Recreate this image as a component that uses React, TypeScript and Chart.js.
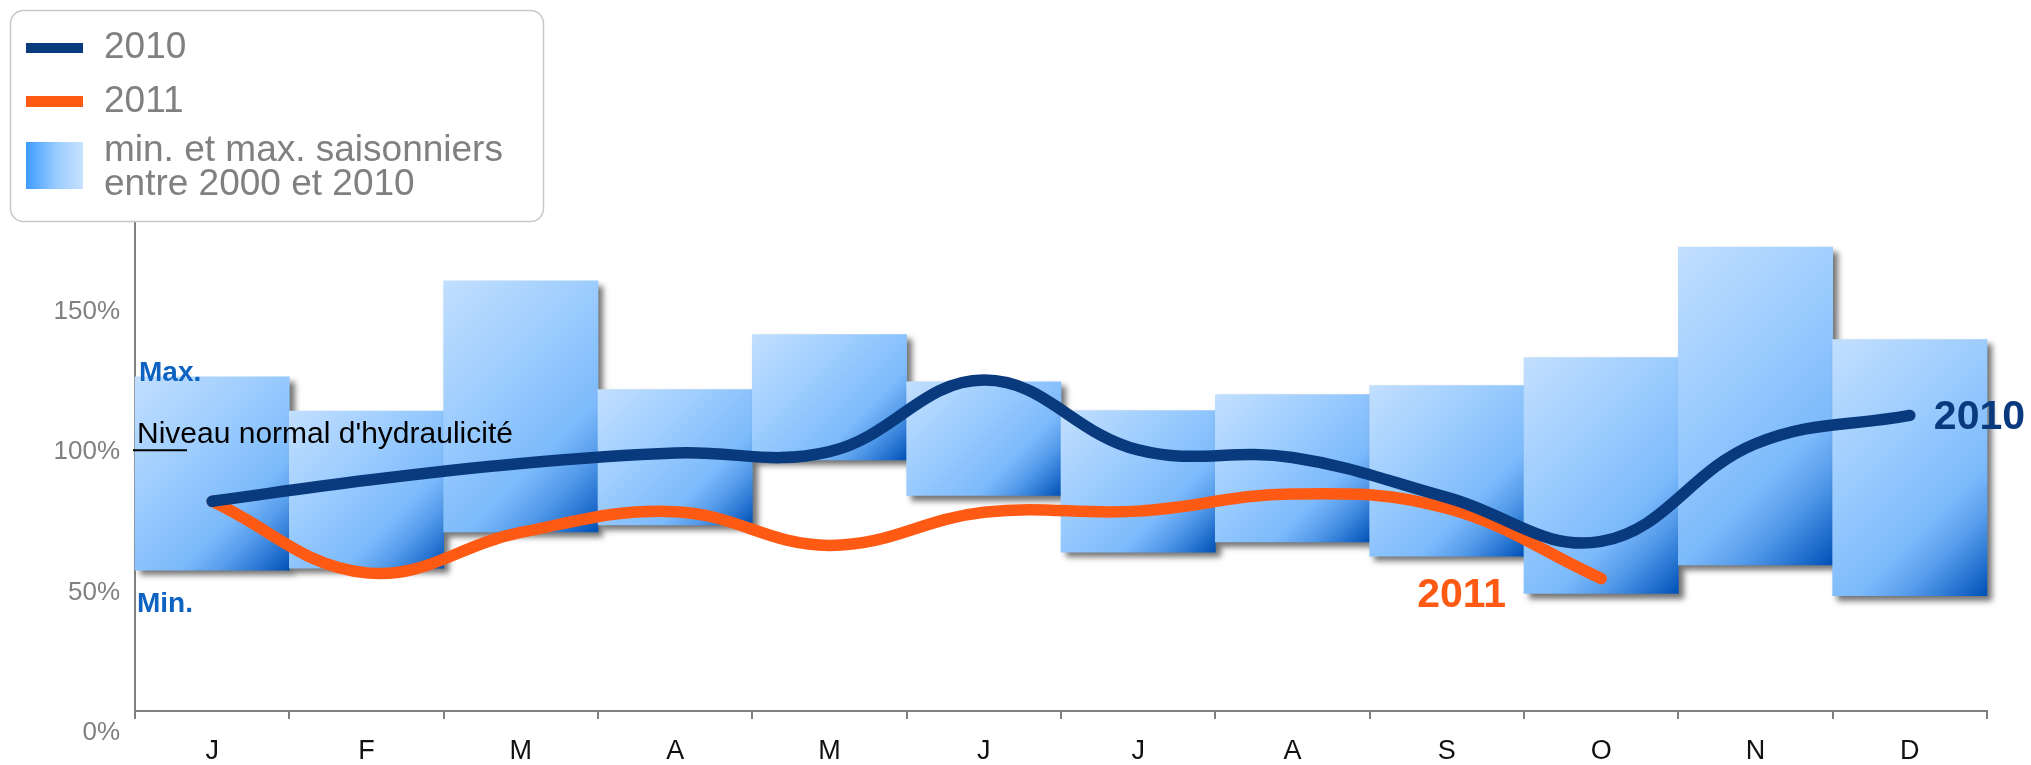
import React, { useEffect, useRef } from 'react';
import { Chart, registerables } from 'chart.js';

Chart.register(...registerables);

const W = 2031;
const H = 765;
const FONT = "'Liberation Sans', Arial, Helvetica, sans-serif";

// ---- data ----
const MONTHS = ['J', 'F', 'M', 'A', 'M', 'J', 'J', 'A', 'S', 'O', 'N', 'D'];
const SEASONAL_MIN = [50.2, 50.9, 63.8, 66.3, 89.4, 76.8, 56.6, 60.2, 55.2, 41.9, 52.0, 41.1];
const SEASONAL_MAX = [119.0, 106.8, 153.2, 114.5, 134.1, 117.3, 107.0, 112.7, 115.9, 125.9, 165.3, 132.3];
const SERIES_2010 = [74.7, 82.2, 88.2, 91.9, 92.4, 117.9, 93.0, 90.3, 76.1, 60.4, 95.2, 105.3];
const SERIES_2011: (number | null)[] = [74.7, 49.2, 63.6, 71.0, 59.0, 70.8, 71.2, 77.3, 72.2, 47.2, null, null];
const Y_TICKS = [0, 50, 100, 150];
const Y_MAX = 174.2;
const NORMAL_LEVEL = 100;

const LEGEND_2010 = '2010';
const LEGEND_2011 = '2011';
const LEGEND_RANGE = ['min. et max. saisonniers', 'entre 2000 et 2010'];

// ---- styles ----
const NAVY = '#0a3a7e';
const ORANGE = '#ff5a14';
const GRAY = '#808080';
const MINMAX_BLUE = '#0d62c2';
const Y_LABEL_OFFSET = 22;
const NORMAL_MARK_OFFSET = 20;

function barGradient(ctx: any) {
  const chart = ctx.chart;
  const xs = chart.scales?.x;
  const ys = chart.scales?.y;
  if (!chart.chartArea || !xs || !ys || ctx.type !== 'data') return '#80bdfc';
  const i = ctx.dataIndex;
  const w = xs.width / MONTHS.length;
  const left = xs.getPixelForValue(i) - w / 2;
  const top = ys.getPixelForValue(SEASONAL_MAX[i]);
  const bottom = ys.getPixelForValue(SEASONAL_MIN[i]);
  const h = bottom - top;
  const d = (w + h) / 2;
  const g = chart.ctx.createLinearGradient(left, top, left + d, top + d);
  g.addColorStop(0, '#c2dffe');
  g.addColorStop(0.4, '#9acbfe');
  g.addColorStop(0.68, '#7cbafb');
  g.addColorStop(0.8, '#569ceb');
  g.addColorStop(0.9, '#2b78d4');
  g.addColorStop(1, '#0050b6');
  return g;
}

const barShadow = {
  id: 'barShadow',
  beforeDatasetDraw(chart: any, args: any) {
    if (chart.data.datasets[args.index].type !== 'bar') return;
    const ctx = chart.ctx;
    ctx.save();
    ctx.shadowColor = 'rgba(0,0,0,0.55)';
    ctx.shadowBlur = 6;
    ctx.shadowOffsetX = 5;
    ctx.shadowOffsetY = 5;
  },
  afterDatasetDraw(chart: any, args: any) {
    if (chart.data.datasets[args.index].type !== 'bar') return;
    chart.ctx.restore();
  },
};

const annotations = {
  id: 'annotations',
  afterDatasetsDraw(chart: any) {
    const { ctx, chartArea } = chart;
    const x = chart.scales.x;
    const y = chart.scales.y;
    ctx.save();
    ctx.textAlign = 'left';
    ctx.textBaseline = 'alphabetic';

    ctx.font = `bold 28px ${FONT}`;
    ctx.fillStyle = MINMAX_BLUE;
    ctx.fillText('Max.', chartArea.left + 4, y.getPixelForValue(SEASONAL_MAX[0]) + 4);
    ctx.fillText('Min.', chartArea.left + 2, y.getPixelForValue(SEASONAL_MIN[0]) + 42);

    const ny = y.getPixelForValue(NORMAL_LEVEL) + NORMAL_MARK_OFFSET;
    ctx.fillStyle = '#000';
    ctx.font = `30px ${FONT}`;
    ctx.fillText("Niveau normal d'hydraulicité", chartArea.left + 2, ny - 7);
    ctx.strokeStyle = '#000';
    ctx.lineWidth = 2;
    ctx.beginPath();
    ctx.moveTo(chartArea.left - 2, ny);
    ctx.lineTo(chartArea.left + 52, ny);
    ctx.stroke();

    // end-of-series labels
    ctx.font = `bold 41px ${FONT}`;
    ctx.textBaseline = 'middle';
    const i10 = SERIES_2010.length - 1;
    ctx.fillStyle = NAVY;
    ctx.fillText(LEGEND_2010, x.getPixelForValue(i10) + 24, y.getPixelForValue(SERIES_2010[i10]) + 2);

    let i11 = SERIES_2011.length - 1;
    while (i11 > 0 && SERIES_2011[i11] == null) i11--;
    ctx.fillStyle = ORANGE;
    ctx.textAlign = 'right';
    ctx.fillText(LEGEND_2011, x.getPixelForValue(i11) - 95, y.getPixelForValue(SERIES_2011[i11] as number) + 17);
    ctx.restore();
  },
};

const legendBox = {
  id: 'legendBox',
  afterDraw(chart: any) {
    const ctx = chart.ctx;
    ctx.save();
    ctx.beginPath();
    (ctx as any).roundRect(10.5, 10.5, 533, 211, 13);
    ctx.fillStyle = '#ffffff';
    ctx.fill();
    ctx.strokeStyle = '#c8c8c8';
    ctx.lineWidth = 1.5;
    ctx.stroke();

    ctx.fillStyle = NAVY;
    ctx.fillRect(26, 43, 57, 10);
    ctx.fillStyle = ORANGE;
    ctx.fillRect(26, 96, 57, 11);
    const g = ctx.createLinearGradient(26, 0, 83, 0);
    g.addColorStop(0, '#3d9bff');
    g.addColorStop(0.55, '#9ccdff');
    g.addColorStop(1, '#c6e2ff');
    ctx.fillStyle = g;
    ctx.fillRect(26, 142, 57, 47);

    ctx.fillStyle = GRAY;
    ctx.font = `37px ${FONT}`;
    ctx.textAlign = 'left';
    ctx.textBaseline = 'middle';
    ctx.fillText(LEGEND_2010, 104, 48);
    ctx.fillText(LEGEND_2011, 104, 102);
    ctx.fillText(LEGEND_RANGE[0], 104, 151);
    ctx.fillText(LEGEND_RANGE[1], 104, 185);
    ctx.restore();
  },
};

export default function App() {
  const ref = useRef<HTMLCanvasElement>(null);
  useEffect(() => {
    if (!ref.current) return;
    const chart = new Chart(ref.current, {
      type: 'bar',
      data: {
        labels: MONTHS,
        datasets: [
          {
            type: 'line',
            label: LEGEND_2010,
            data: SERIES_2010,
            borderColor: NAVY,
            borderWidth: 11.5,
            borderCapStyle: 'round',
            borderJoinStyle: 'round',
            pointRadius: 0,
            tension: 0.4,
            order: 0,
          } as any,
          {
            type: 'line',
            label: LEGEND_2011,
            data: SERIES_2011,
            borderColor: ORANGE,
            borderWidth: 11.5,
            borderCapStyle: 'round',
            borderJoinStyle: 'round',
            pointRadius: 0,
            tension: 0.4,
            spanGaps: false,
            order: 1,
          } as any,
          {
            type: 'bar',
            label: LEGEND_RANGE.join(' '),
            data: SEASONAL_MIN.map((m, i) => [m, SEASONAL_MAX[i]]),
            backgroundColor: barGradient,
            borderWidth: 0,
            barPercentage: 1,
            categoryPercentage: 1,
            clip: false,
            order: 2,
          } as any,
        ],
      },
      options: {
        animation: false,
        responsive: true,
        maintainAspectRatio: false,
        events: [],
        layout: { padding: { top: 222, right: 44, bottom: 0, left: 0 } },
        plugins: {
          legend: { display: false },
          tooltip: { enabled: false },
        },
        scales: {
          x: {
            type: 'category',
            offset: true,
            grid: {
              display: true,
              offset: true,
              drawOnChartArea: false,
              drawTicks: true,
              tickLength: 8,
              color: GRAY,
              lineWidth: 2,
            },
            border: { display: true, color: GRAY, width: 2 },
            ticks: {
              color: '#111',
              font: { family: FONT, size: 27 },
              padding: 16,
              maxRotation: 0,
              autoSkip: false,
            },
            afterFit: (scale: any) => {
              scale.height = 54;
            },
          },
          y: {
            type: 'linear',
            min: 0,
            max: Y_MAX,
            grid: { display: false, drawTicks: false },
            border: { display: true, color: GRAY, width: 2 },
            ticks: {
              color: GRAY,
              font: { family: FONT, size: 26 },
              padding: 15,
              labelOffset: Y_LABEL_OFFSET,
              callback: (v: any) => `${v}%`,
            },
            afterBuildTicks: (scale: any) => {
              scale.ticks = Y_TICKS.map((v) => ({ value: v }));
            },
            afterFit: (scale: any) => {
              scale.width = 135;
            },
          },
        },
      },
      plugins: [barShadow, annotations, legendBox],
    } as any);
    return () => chart.destroy();
  }, []);

  return (
    <div style={{ position: 'absolute', left: 0, top: 0, width: W, height: H, background: '#fff' }}>
      <canvas ref={ref} />
    </div>
  );
}
